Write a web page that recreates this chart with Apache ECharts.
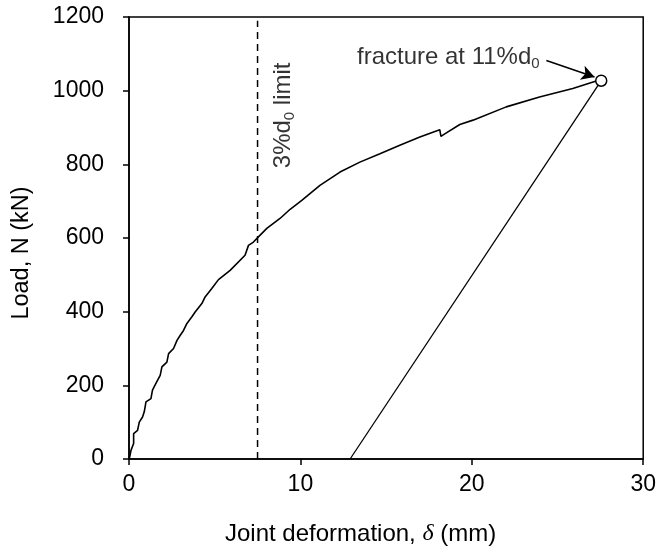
<!DOCTYPE html>
<html>
<head>
<meta charset="utf-8">
<script src="https://cdn.jsdelivr.net/npm/echarts@6/dist/echarts.min.js"></script>
<style>
  html, body { margin: 0; padding: 0; background: #fff; }
  #chart { width: 659px; height: 552px; }
</style>
</head>
<body>
<div id="chart"></div>
<script>
// joint deformation (mm) vs load (kN)
var loadCurve = [
  [0.02, 1], [0.12, 24], [0.27, 42], [0.27, 69], [0.50, 78], [0.60, 100],
  [0.79, 114], [0.89, 128], [0.99, 155], [1.28, 164], [1.37, 187], [1.57, 205],
  [1.63, 209], [1.82, 227], [1.92, 250], [2.21, 263], [2.31, 286], [2.60, 300],
  [2.80, 322], [2.99, 336], [3.18, 349], [3.38, 368], [3.67, 386], [3.86, 399],
  [4.25, 422], [4.44, 440], [4.83, 463], [5.22, 487], [5.90, 512], [6.77, 553],
  [6.97, 580], [7.26, 589], [7.55, 603], [8.04, 626], [8.81, 653], [9.40, 678],
  [10.08, 702], [11.14, 743], [12.31, 779], [13.47, 806], [14.64, 829], [15.80, 852],
  [16.97, 874], [18.13, 894], [18.20, 876], [18.40, 882], [19.30, 908], [20.07, 920],
  [22.01, 956], [23.95, 983], [25.89, 1006], [27.26, 1026], [27.55, 1027]
];
var unloading = [[27.55, 1027], [12.9, 0]];
var fracturePoint = [[27.55, 1027]];
var limitLine = [[7.5, 0], [7.5, 1190]];
var xTicks = [0, 10, 20, 30];
var yTicks = [0, 200, 400, 600, 800, 1000, 1200];

var font = 'Liberation Sans, Arial, sans-serif';
var fs = 23;
var fsNote = 24;

var chart = echarts.init(document.getElementById('chart'));
var option = {
  backgroundColor: '#fff',
  animation: false,
  grid: {
    left: 129, right: 15, top: 17, bottom: 93,
    show: true, borderColor: '#000', borderWidth: 1.5
  },
  xAxis: {
    type: 'value',
    min: xTicks[0], max: xTicks[xTicks.length - 1], interval: 10,
    axisLine: { lineStyle: { color: '#000', width: 1.5 } },
    axisTick: { inside: false, length: 6, lineStyle: { color: '#000', width: 1.5 } },
    splitLine: { show: false },
    axisLabel: { color: '#000', fontSize: fs, fontFamily: font, margin: 14 }
  },
  yAxis: {
    type: 'value',
    min: yTicks[0], max: yTicks[yTicks.length - 1], interval: 200,
    axisLine: { lineStyle: { color: '#000', width: 1.5 } },
    axisTick: { inside: false, length: 6, lineStyle: { color: '#000', width: 1.5 } },
    splitLine: { show: false },
    axisLabel: {
      color: '#000', fontSize: fs, fontFamily: font, margin: 25,
      formatter: function (v) { return String(v); }
    }
  },
  graphic: [
    {
      type: 'text', x: 225, y: 534,
      style: {
        text: '{n|Joint deformation, }{d|δ}{n| (mm)}',
        textVerticalAlign: 'middle',
        rich: {
          n: { fontSize: fsNote, fontFamily: font, fill: '#000' },
          d: { fontSize: fsNote, fontFamily: 'Liberation Serif, serif', fontStyle: 'italic', fill: '#000' }
        }
      }
    },
    {
      type: 'text', x: 22, y: 253, rotation: Math.PI / 2,
      style: {
        text: 'Load, N (kN)', fontSize: 23.5, fontFamily: font, fill: '#000',
        textAlign: 'center', textVerticalAlign: 'middle'
      }
    }
  ],
  series: [
    {
      name: 'limit', type: 'line', data: limitLine, symbol: 'none',
      lineStyle: { color: '#000', width: 1.5, type: [7, 5] }
    },
    {
      name: 'load', type: 'line', data: loadCurve, symbol: 'none',
      lineStyle: { color: '#000', width: 1.6 },
      markLine: {
        silent: true, symbol: ['none', 'arrow'], symbolSize: [11, 13],
        lineStyle: { color: '#000', width: 1.5, type: 'solid' },
        label: { show: false },
        data: [[{ coord: [24.35, 1082] }, { coord: [27.16, 1037] }]]
      }
    },
    {
      name: 'unload', type: 'line', data: unloading, symbol: 'none',
      lineStyle: { color: '#000', width: 1.3 }
    },
    {
      name: 'fracture', type: 'scatter', data: fracturePoint, symbol: 'circle', symbolSize: 11,
      itemStyle: { color: '#fff', borderColor: '#000', borderWidth: 1.5, opacity: 1 },
      z: 5
    },
    {
      name: 'notes', type: 'scatter', symbolSize: 0, silent: true,
      data: [
        {
          value: [13.3, 1091],
          label: {
            show: true, position: 'right', distance: 0,
            formatter: '{n|fracture at 11%d}{s|0}'
          }
        },
        {
          value: [8.99, 933],
          label: {
            show: true, position: 'inside', rotate: 90,
            formatter: '{n|3%d}{s|0}{n| limit}'
          }
        }
      ],
      label: {
        rich: {
          n: { fontSize: fsNote, fontFamily: font, color: '#000', lineHeight: 28 },
          s: { fontSize: 15, fontFamily: font, color: '#000', lineHeight: 15, verticalAlign: 'bottom' }
        }
      }
    }
  ]
};
chart.setOption(option);
</script>
</body>
</html>
